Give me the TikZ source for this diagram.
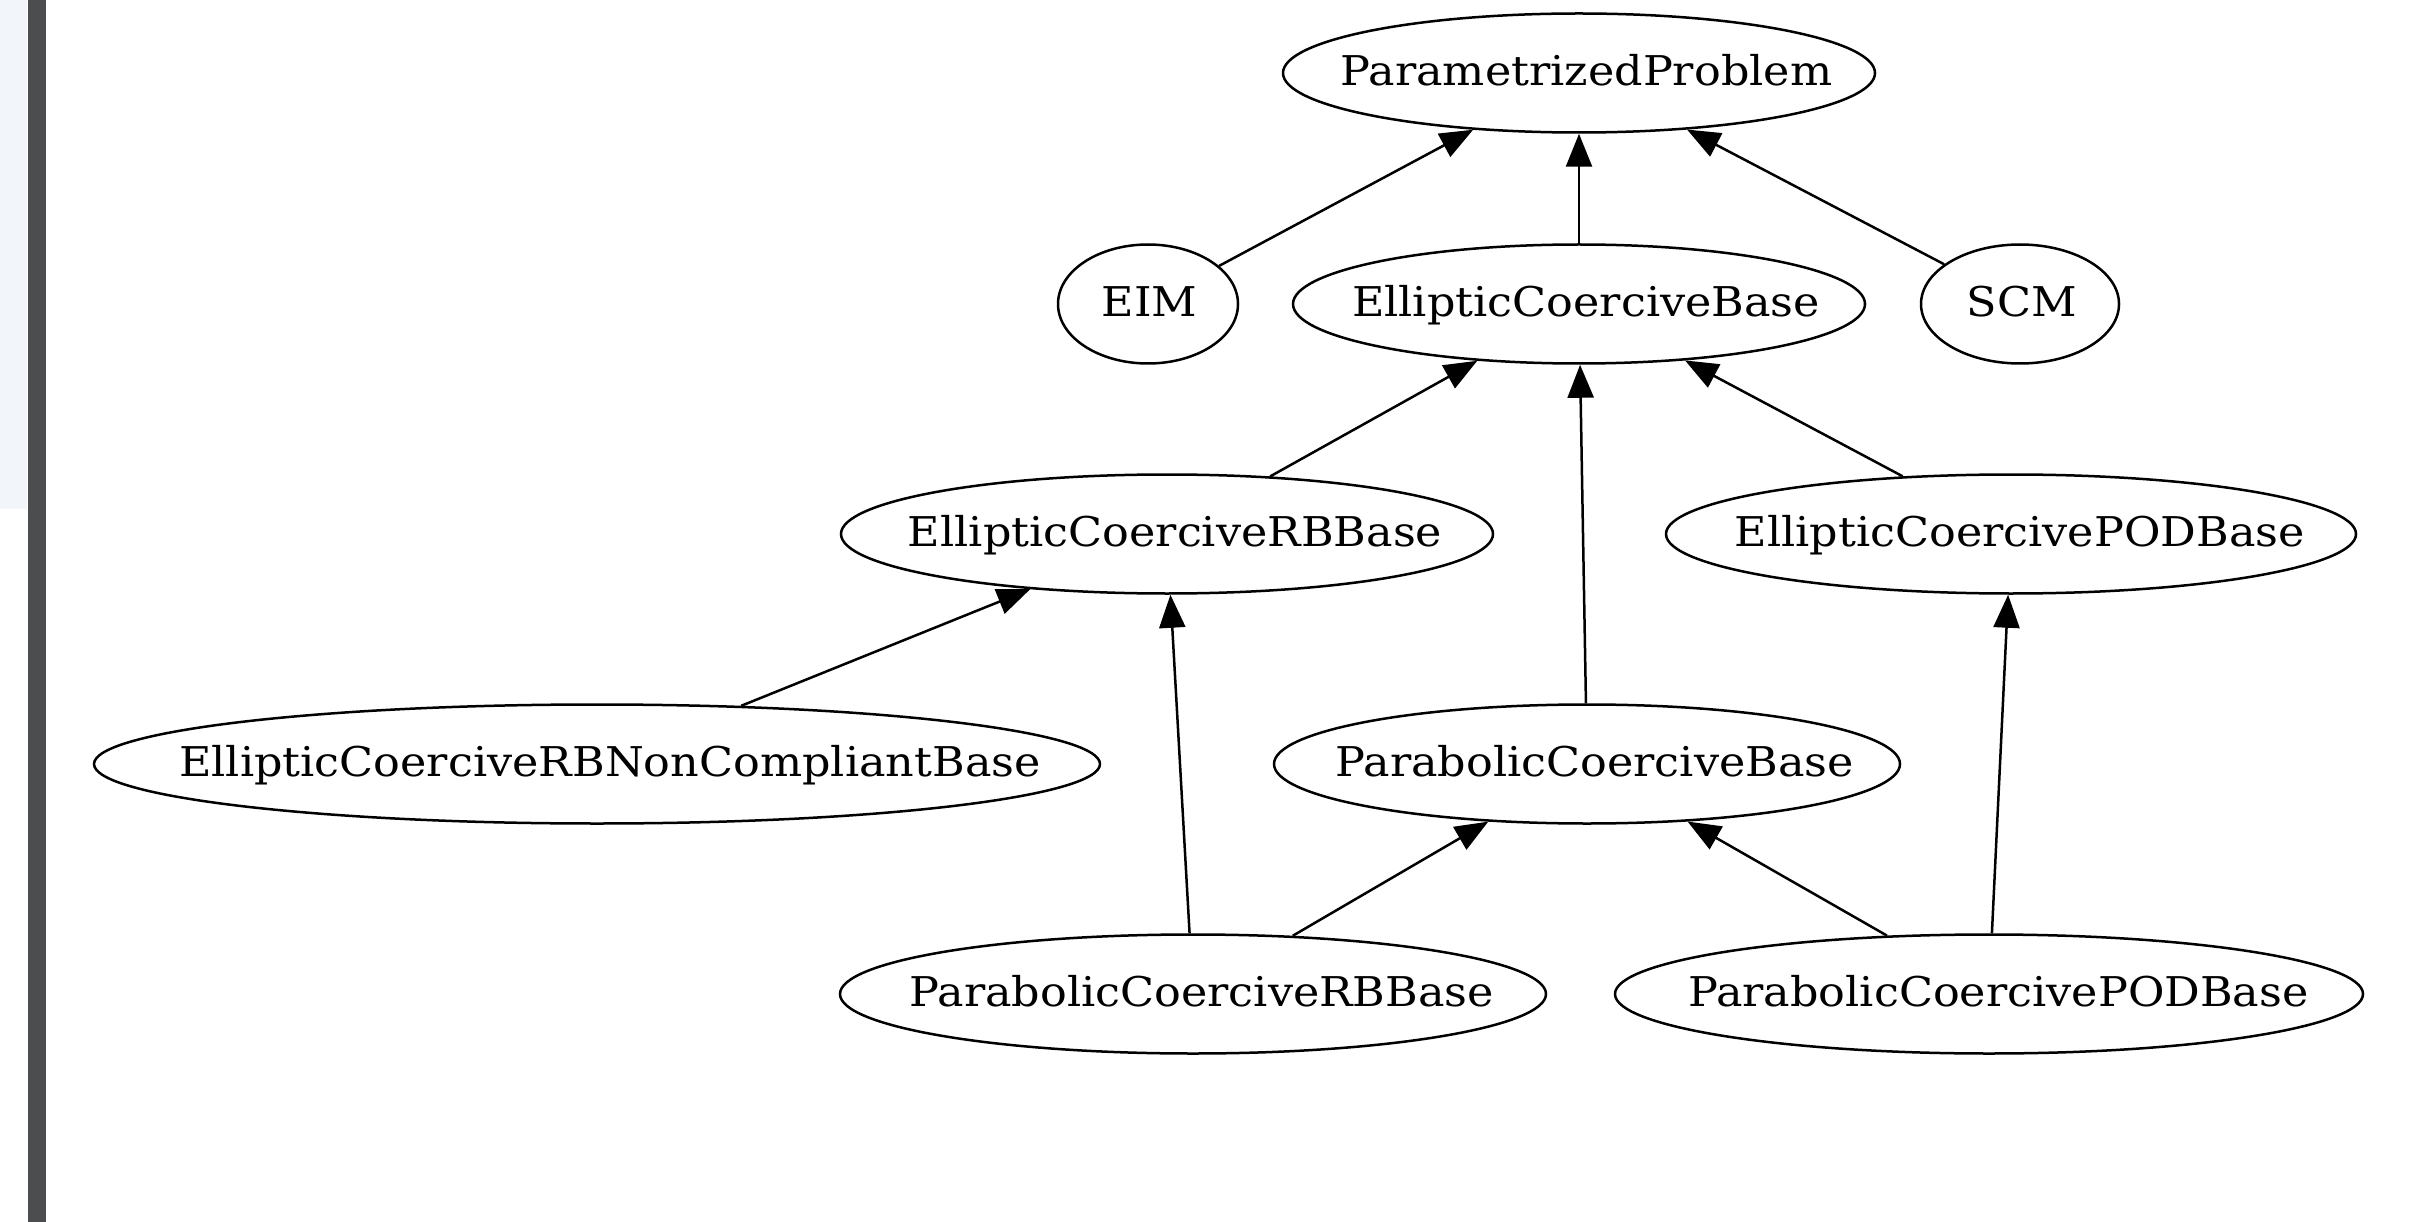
\documentclass[tikz,border=0pt]{standalone}
\usepackage{fontspec}
\setmainfont{DejaVu Serif}
\usetikzlibrary{shapes.geometric,arrows.meta}
\definecolor{panelcol}{HTML}{F2F6FA}
\definecolor{barcol}{HTML}{4C4D4F}
\newsavebox{\gvbox}
\newcommand{\gvtext}[1]{\sbox{\gvbox}{\scalebox{1.085}[1]{#1}}\makebox[0pt][c]{\hspace*{0.03\wd\gvbox}\usebox{\gvbox}}}
\tikzset{
  gv/.style={ellipse, draw=black, line width=2.5pt, inner sep=0pt, minimum height=119pt,
    text height=25.4pt, text depth=0pt,
    font=\fontsize{41}{49}\selectfont},
  inh/.style={line width=2.5pt, -{Triangle[length=33pt,width=26pt]}}
}
\begin{document}
\begin{tikzpicture}[x=1pt,y=-1pt]
\useasboundingbox (0,0) rectangle (2420,1222);
\fill[white] (0,0) rectangle (2420,1222);
\fill[panelcol] (0,0) rectangle (27,509);
\fill[barcol] (28,0) rectangle (46,1222);

\node[gv, minimum width=592pt] (pp) at (1579,73) {\gvtext{ParametrizedProblem}};
\node[gv, minimum width=180pt] (eim) at (1148,304) {\gvtext{EIM}};
\node[gv, minimum width=572pt] (ecb) at (1579,304) {\gvtext{EllipticCoerciveBase}};
\node[gv, minimum width=198pt] (scm) at (2020,304) {\gvtext{SCM}};
\node[gv, minimum width=652pt] (ecrb) at (1167,534) {\gvtext{EllipticCoerciveRBBase}};
\node[gv, minimum width=690pt] (ecpod) at (2011,534) {\gvtext{EllipticCoercivePODBase}};
\node[gv, minimum width=1006pt] (ecnc) at (597,764) {\gvtext{EllipticCoerciveRBNonCompliantBase}};
\node[gv, minimum width=626pt] (pcb) at (1587,764) {\gvtext{ParabolicCoerciveBase}};
\node[gv, minimum width=706pt] (pcrb) at (1193,994) {\gvtext{ParabolicCoerciveRBBase}};
\node[gv, minimum width=748pt] (pcpod) at (1989,994) {\gvtext{ParabolicCoercivePODBase}};

\draw[inh] (eim) -- (pp);
\draw[inh] (ecb) -- (pp);
\draw[inh] (scm) -- (pp);
\draw[inh] (ecrb) -- (ecb);
\draw[inh] (pcb) -- (ecb);
\draw[inh] (ecpod) -- (ecb);
\draw[inh] (ecnc) -- (ecrb);
\draw[inh] (pcrb) -- (ecrb);
\draw[inh] (pcrb) -- (pcb);
\draw[inh] (pcpod) -- (pcb);
\draw[inh] (pcpod) -- (ecpod);
\end{tikzpicture}
\end{document}
